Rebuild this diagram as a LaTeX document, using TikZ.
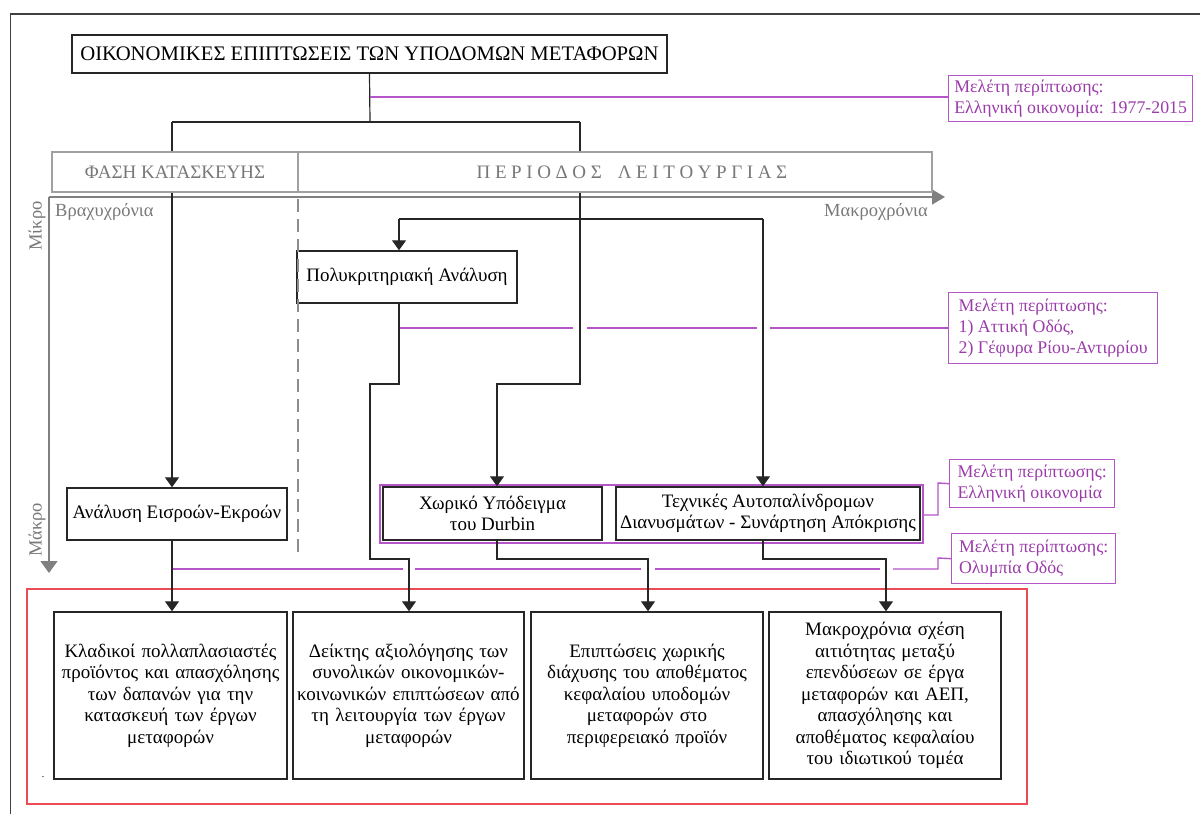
\documentclass[tikz,border=0pt]{standalone}
\usepackage{fontspec}
\setmainfont{Liberation Serif}
\usetikzlibrary{arrows.meta}
\definecolor{purp}{RGB}{155,60,170}
\definecolor{purpline}{RGB}{180,85,200}
\definecolor{redf}{RGB}{235,75,85}
\definecolor{hdrgray}{RGB}{160,160,160}
\definecolor{txtgray}{RGB}{120,120,120}
\tikzset{
  box/.style={draw=black!85, line width=1.4pt, fill=white, inner sep=2pt, align=center,
    font=\fontsize{19}{21.5}\selectfont},
  resbox/.style={box, minimum height=167pt, text width=#1-6pt, minimum width=#1},
  casebox/.style={draw=purpline, line width=1.3pt, fill=white, inner sep=4pt, align=left,
    anchor=north west, text=purp, font=\fontsize{17.8}{21}\selectfont},
  hdrbox/.style={draw=hdrgray, line width=1.3pt, fill=white, text=txtgray,
    font=\fontsize{19}{22}\selectfont},
  conn/.style={draw=black!85, line width=1.2pt},
  arr/.style={conn, -{Triangle[width=14pt,length=10pt]}},
  pline/.style={draw=purpline, line width=1.4pt},
  axisline/.style={draw=black!50, line width=1.3pt},
  graylbl/.style={text=txtgray, font=\fontsize{18.5}{20}\selectfont, inner sep=0pt}
}
\newcommand{\ls}{\hspace{4.6pt}}
\begin{document}
\begin{tikzpicture}[x=1pt,y=-1pt]
\useasboundingbox (0,0) rectangle (1200,814);
% outer frame
\draw[line width=1.6pt, black!75] (10.5,814) -- (10.5,14) -- (1200,14);

% title
\node[box, minimum width=595pt, minimum height=38pt, font=\fontsize{20.7}{22}\selectfont] (title) at (369.5,54) {ΟΙΚΟΝΟΜΙΚΕΣ ΕΠΙΠΤΩΣΕΙΣ ΤΩΝ ΥΠΟΔΟΜΩΝ ΜΕΤΑΦΟΡΩΝ};

% case boxes
\node[casebox, minimum width=244pt, minimum height=46pt] (c1) at (948,75) {Μελέτη περίπτωσης:\\Ελληνική οικονομία: 1977-2015};
\node[casebox, minimum width=209pt, minimum height=71pt] (c2) at (948,292) {Μελέτη περίπτωσης:\\1) Αττική Οδός,\\2) Γέφυρα Ρίου-Αντιρρίου};
\node[casebox, minimum width=165pt, minimum height=48pt] (c3) at (949,459) {Μελέτη περίπτωσης:\\Ελληνική οικονομία};
\node[casebox, minimum width=164pt, minimum height=50pt] (c4) at (951,533) {Μελέτη περίπτωσης:\\Ολυμπία Οδός};

% main boxes
\node[box, minimum width=220pt, minimum height=52pt] (io) at (177,514) {Ανάλυση Εισροών-Εκροών};
\node[box, minimum width=220pt, minimum height=52pt] (mca) at (407,277) {Πολυκριτηριακή Ανάλυση};
\node[draw=purpline, line width=1.2pt, minimum width=543pt, minimum height=58pt, inner sep=0pt] (frame) at (651.5,514) {};
\node[box, minimum width=219pt, minimum height=53pt] (dur) at (492.5,513.5) {Χωρικό Υπόδειγμα\\του Durbin};
\node[box, minimum width=304pt, minimum height=53pt] (var) at (768,513.5) {Τεχνικές Αυτοπαλίνδρομων\\Διανυσμάτων - Συνάρτηση Απόκρισης};

% coordinates
\coordinate (jT) at (370,122);
\coordinate (jL) at (172,122);
\coordinate (jR) at (580,122);
\coordinate (jA) at (399,219);
\coordinate (jB) at (763,219);

% axis
\draw[axisline, -{Triangle[width=15pt,length=13pt]}] (49,197) -- (945,197);
\draw[axisline, -{Triangle[width=17pt,length=12pt]}] (49,197) -- (49,573);
\draw[black!45, line width=1.2pt, dash pattern=on 13pt off 7pt] (298,199) -- (298,552);
\node[graylbl, anchor=west] (lbShort) at (55,212) {Βραχυχρόνια};
\node[graylbl, anchor=east] (lbLong) at (928,212) {Μακροχρόνια};
\node[graylbl, rotate=90] (lbMicro) at (37,226) {Μίκρο};
\node[graylbl, rotate=90] (lbMacro) at (37,530) {Μάκρο};

% connectors that pass behind the header
\draw[conn] (title.south) -- (jT);
\draw[conn] (jL) -- (jR);
\draw[pline] (370,97) -- (c1.west |- 0,97);
\draw[arr] (jL) -- (io.north -| jL);
\draw[arr] (jR) -- (580,384) -- (497,384) -- (dur.north -| 497,0);

% red frame and result boxes
\node[draw=redf, line width=1.2pt, minimum width=1000pt, minimum height=215pt, inner sep=0pt] (red) at (527,696.5) {};
\node[resbox=233pt] (r1) at (170.5,695.5) {Κλαδικοί πολλαπλασιαστές\\προϊόντος και απασχόλησης\\των δαπανών για την\\κατασκευή των έργων\\μεταφορών\\[4pt]};
\node[resbox=231pt] (r2) at (408.5,695.5) {Δείκτης αξιολόγησης των\\συνολικών οικονομικών-\\κοινωνικών επιπτώσεων από\\τη λειτουργία των έργων\\μεταφορών};
\node[resbox=232pt] (r3) at (647,695.5) {Επιπτώσεις χωρικής\\διάχυσης του αποθέματος\\κεφαλαίου υποδομών\\μεταφορών στο\\περιφερειακό προϊόν};
\node[resbox=232pt] (r4) at (885,695.5) {Μακροχρόνια σχέση\\αιτιότητας μεταξύ\\επενδύσεων σε έργα\\μεταφορών και ΑΕΠ,\\απασχόλησης και\\αποθέματος κεφαλαίου\\του ιδιωτικού τομέα};
\node[inner sep=0pt, font=\fontsize{10}{10}\selectfont] (dot) at (43,777) {.};

% purple lines with gaps at crossings
\draw[pline] (399,328) -- (573,328);
\draw[pline] (587,328) -- (757,328);
\draw[pline] (770,328) -- (c2.west |- 0,328);
\draw[pline] (172,569) -- (403,569);
\draw[pline] (415,569) -- (641,569);
\draw[pline] (655,569) -- (880,569);
\draw[pline] (893,569) -- (938,569) -- (938,558) -- (c4.west);
\draw[pline] (frame.east |- 0,515) -- (938,515) -- (938,483) -- (c3.west);

% header (covers connectors)
\node[hdrbox, minimum width=246pt, minimum height=40pt] (hL) at (175,172) {ΦΑΣΗ ΚΑΤΑΣΚΕΥΗΣ};
\node[hdrbox, minimum width=634pt, minimum height=40pt] (hR) at (615,172) {};
\node[text=txtgray, font=\fontsize{19}{22}\selectfont] (hRtext) at (632,172) {Π\ls Ε\ls Ρ\ls Ι\ls Ο\ls Δ\ls Ο\ls Σ\hspace{16pt}Λ\ls Ε\ls Ι\ls Τ\ls Ο\ls Υ\ls Ρ\ls Γ\ls Ι\ls Α\ls Σ};

% connectors
\draw[conn] (jA) -- (jB);
\draw[arr] (jA) -- (mca.north -| jA);
\draw[arr] (jB) -- (jB |- var.north);
\draw[arr] (mca.south -| jA) -- (399,384) -- (370,384) -- (370,559) -- (409,559) -- (r2.north -| 409,0);
\draw[arr] (io.south -| jL) -- (r1.north -| jL);
\draw[arr] (dur.south -| 497,0) -- (497,559) -- (648,559) -- (r3.north -| 648,0);
\draw[arr] (var.south -| jB) -- (763,559) -- (886,559) -- (r4.north -| 886,0);
\end{tikzpicture}
\end{document}
